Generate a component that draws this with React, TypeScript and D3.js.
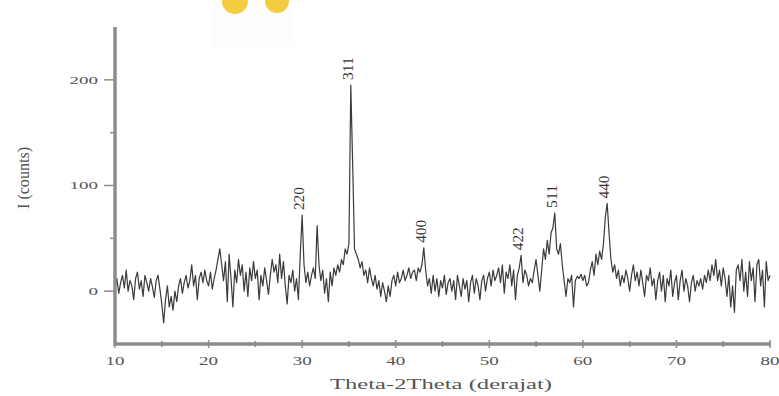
import React from 'react';
import * as d3 from 'd3';

// XRD pattern, sampled every 0.2 degrees from 10 to 80 (2theta)
const thetaStart = 10;
const thetaStep = 0.2;
const counts = [
  5, 12, -2, 8, 15, 3, 20, 0, 10, 5,
  -8, 12, 18, 2, 10, -5, 15, 8, 0, 12,
  4, -6, 10, 15, 2, -12, -30, -8, 5, -15,
  -5, -18, 0, -10, 5, 12, -2, 8, 15, 3,
  10, 25, 5, 15, -8, 12, 18, 8, 20, 10,
  5, 18, 2, 12, 20, 30, 40, 25, 10, 28,
  -10, 35, 12, -15, 20, 8, 30, 15, 25, 0,
  18, -5, 22, 10, 28, 12, 20, -8, 15, 5,
  22, 10, -3, 15, 30, 18, 25, 8, 35, 12,
  28, 5, -12, 15, 8, 20, 0, 12, -8, 35,
  72, 25, 8, 18, 5, 15, 22, 12, 62, 25,
  10, 20, -2, 12, -10, 18, 5, 22, 15, 25,
  18, 30, 25, 40, 35, 45, 195, 120, 40, 35,
  30, 22, 28, 15, 20, 8, 22, 12, 5, 15,
  2, 10, -5, 8, 0, -10, 5, -5, 10, 15,
  5, 18, 8, 12, 20, 10, 15, 22, 12, 18,
  20, 10, 22, 18, 25, 41, 20, 5, 12, -2,
  15, 0, 12, -5, 10, 3, 15, -3, 8, 12,
  0, 10, -8, 15, 5, -5, 12, 2, 10, -10,
  8, 15, -2, 12, 5, -8, 10, 15, 0, 12,
  18, 5, 20, 10, 15, 22, 8, 25, -2, 18,
  12, 25, 5, 20, -8, 15, 22, 34, 8, 20,
  15, 5, 12, 8, 20, 30, 15, 0, 20, 40,
  30, 48, 35, 55, 60, 74, 40, 35, 45, 25,
  10, -5, 12, 8, 15, -15, 10, 14, 12, 16,
  10, 15, 5, 8, 20, 28, 15, 35, 25, 38,
  30, 45, 70, 83, 55, 30, 18, 25, 12, 20,
  5, 15, 8, 20, 12, 0, 15, 25, 10, 18,
  5, 20, 8, -5, 15, 10, 22, 5, 12, -8,
  10, 18, 0, 15, -10, 12, 5, 20, -5, 8,
  15, -8, 10, 20, 0, 12, 5, -10, 8, 15,
  0, 10, 5, 12, 2, 15, 8, 20, 10, 25,
  15, 30, 10, 20, 5, 22, 12, -5, 15, -15,
  5, -20, 20, 25, 10, 30, 0, 18, -5, 28,
  10, 22, -10, 25, 30, 5, 20, -15, 28, 10,
  15,
];

const peakLabels = ['220', '311', '400', '422', '511', '440'];
const peakTheta = [30.0, 35.2, 43.0, 53.4, 57.0, 62.6];
const peakCounts = [72, 195, 41, 34, 74, 83];

const xTicks = [10, 20, 30, 40, 50, 60, 70, 80];
const xMinorTicks = [15, 25, 35, 45, 55, 65, 75];
const yTicks = [0, 100, 200];
const yMinorTicks = [50, 150];

const width = 779;
const height = 396;

export default function App() {
  const x = d3.scaleLinear().domain([10, 80]).range([115, 770]);
  const y = d3.scaleLinear().domain([-50, 250]).range([344, 27]);

  const points: [number, number][] = counts.map((c, i) => [thetaStart + i * thetaStep, c]);
  const line = d3.line<[number, number]>()
    .x(d => x(d[0]))
    .y(d => y(d[1]));

  const axisColor = '#8c8c8c';
  const textColor = '#555';
  const font = '"Liberation Serif", "DejaVu Serif", serif';

  return (
    <svg width={width} height={height} style={{ position: 'absolute', left: 0, top: 0, background: '#fff' }}>
      {/* stray yellow marks at the top of the picture */}
      <rect x={212} y={0} width={80} height={46} fill="#fdfdfb" />
      <circle cx={235} cy={1} r={13} fill="#f2c72a" opacity={0.9} />
      <circle cx={277} cy={1} r={12} fill="#f2c72a" opacity={0.9} />

      {/* trace */}
      <path d={line(points) || ''} fill="none" stroke="#3a3a3a" strokeWidth={1.2} strokeLinejoin="round" />

      {/* axes */}
      <line x1={x(10)} x2={x(10)} y1={y(250)} y2={y(-50) + 2} stroke={axisColor} strokeWidth={3.5} />
      <line x1={x(10) - 1} x2={x(80) + 1} y1={y(-50)} y2={y(-50)} stroke={axisColor} strokeWidth={3.5} />

      {yTicks.map(t => (
        <g key={'y' + t}>
          <line x1={x(10) - 11} x2={x(10)} y1={y(t)} y2={y(t)} stroke={axisColor} strokeWidth={1.5} />
          <text x={x(10) - 17} y={y(t)} dy="0.35em" textAnchor="end" fontFamily={font} fontSize={11}
            fill={textColor} textLength={t.toString().length * 9.5} lengthAdjust="spacingAndGlyphs">{t}</text>
        </g>
      ))}
      {yMinorTicks.map(t => (
        <line key={'ym' + t} x1={x(10) - 5} x2={x(10)} y1={y(t)} y2={y(t)} stroke={axisColor} strokeWidth={1.5} />
      ))}

      {xTicks.map(t => (
        <g key={'x' + t}>
          <line x1={x(t)} x2={x(t)} y1={y(-50) - 4} y2={y(-50) + 4} stroke={axisColor} strokeWidth={1.5} />
          <text x={x(t)} y={365} textAnchor="middle" fontFamily={font} fontSize={12}
            fill={textColor} textLength={19} lengthAdjust="spacingAndGlyphs">{t}</text>
        </g>
      ))}
      {xMinorTicks.map(t => (
        <line key={'xm' + t} x1={x(t)} x2={x(t)} y1={y(-50) - 3} y2={y(-50) + 3} stroke={axisColor} strokeWidth={1.5} />
      ))}

      {/* axis titles */}
      <text x={441} y={389} textAnchor="middle" fontFamily={font} fontSize={14} fill={textColor}
        textLength={222} lengthAdjust="spacingAndGlyphs">Theta-2Theta (derajat)</text>
      <text transform="translate(23,178) rotate(-90)" textAnchor="middle" dy="0.35em" fontFamily={font}
        fontSize={16} fill={textColor} textLength={62} lengthAdjust="spacingAndGlyphs">I (counts)</text>

      {/* peak indices */}
      {peakLabels.map((lab, i) => (
        <text key={lab} transform={`translate(${x(peakTheta[i]) - 3},${y(peakCounts[i]) - 5}) rotate(-90)`}
          dy="0.35em" textAnchor="start" fontFamily={font} fontSize={15} fill="#333"
          textLength={23} lengthAdjust="spacingAndGlyphs">{lab}</text>
      ))}
    </svg>
  );
}
